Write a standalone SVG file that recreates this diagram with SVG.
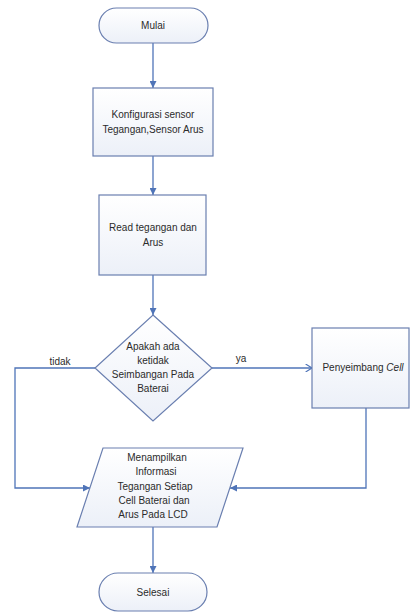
<svg xmlns="http://www.w3.org/2000/svg" width="411" height="614" viewBox="0 0 411 614">
<style>
.node{fill:url(#g);stroke:#6a7fb0;stroke-width:1.2}
.t{font-family:"Liberation Sans",Arial,sans-serif;font-size:10px;fill:#2b2b2b;text-anchor:middle}
.c{fill:none;stroke:#4f74b8;stroke-width:1.3}
</style>
<defs>
<linearGradient id="g" x1="0" y1="0" x2="0" y2="1">
<stop offset="0" stop-color="#ffffff"/>
<stop offset="1" stop-color="#ecf0f8"/>
</linearGradient>
<marker id="a" viewBox="0 0 10 10" refX="10" refY="5" markerWidth="7" markerHeight="7" orient="auto" markerUnits="userSpaceOnUse">
<path d="M0,0 L10,5 L0,10 z" fill="#4f74b8"/>
</marker>
<marker id="o" viewBox="0 0 10 10" refX="10" refY="5" markerWidth="8" markerHeight="8" orient="auto" markerUnits="userSpaceOnUse">
<path d="M2,0 L10,5 L2,10" fill="none" stroke="#4f74b8" stroke-width="1.4"/>
</marker>
</defs>
<rect width="411" height="614" fill="#fff"/>
<g id="connectors">
<path class="c" d="M153,43 V88" marker-end="url(#a)"/>
<path class="c" d="M153,156 V195" marker-end="url(#a)"/>
<path class="c" d="M153,275 V315" marker-end="url(#a)"/>
<path class="c" d="M212,368 H312" marker-end="url(#o)"/>
<path class="c" d="M95,368 H15 V488 H90" marker-end="url(#a)"/>
<path class="c" d="M366,408 V488 H230" marker-end="url(#a)"/>
<path class="c" d="M153,527 V573" marker-end="url(#a)"/>
<text class="t" x="60" y="365">tidak</text>
<text class="t" x="241" y="362">ya</text>
</g>
<g id="mulai">
<rect class="node" x="99" y="8" width="109" height="35" rx="17.5"/>
<text class="t" x="153" y="29">Mulai</text>
</g>
<g id="konfigurasi">
<rect class="node" x="93" y="88" width="120" height="68"/>
<text class="t" x="153" y="118">Konfigurasi sensor</text>
<text class="t" x="153" y="133">Tegangan,Sensor Arus</text>
</g>
<g id="read">
<rect class="node" x="99" y="195" width="107" height="80"/>
<text class="t" x="153" y="231">Read tegangan dan</text>
<text class="t" x="153" y="246">Arus</text>
</g>
<g id="decision">
<polygon class="node" points="153,315 212,368 153,421 95,368"/>
<text class="t" x="153" y="350">Apakah ada</text>
<text class="t" x="153" y="364">ketidak</text>
<text class="t" x="153" y="378">Seimbangan Pada</text>
<text class="t" x="153" y="392">Baterai</text>
</g>
<g id="penyeimbang">
<rect class="node" x="312" y="328" width="97" height="80"/>
<text class="t" x="363" y="371">Penyeimbang <tspan font-style="italic">Cell</tspan></text>
</g>
<g id="tampil">
<polygon class="node" points="103,448 243,448 217,527 77,527"/>
<text class="t" x="157" y="461">Menampilkan</text>
<text class="t" x="156" y="475">Informasi</text>
<text class="t" x="155" y="490">Tegangan Setiap</text>
<text class="t" x="154" y="504">Cell Baterai dan</text>
<text class="t" x="153" y="518">Arus Pada LCD</text>
</g>
<g id="selesai">
<rect class="node" x="99" y="573" width="108" height="38" rx="19"/>
<text class="t" x="153" y="596">Selesai</text>
</g>
</svg>
